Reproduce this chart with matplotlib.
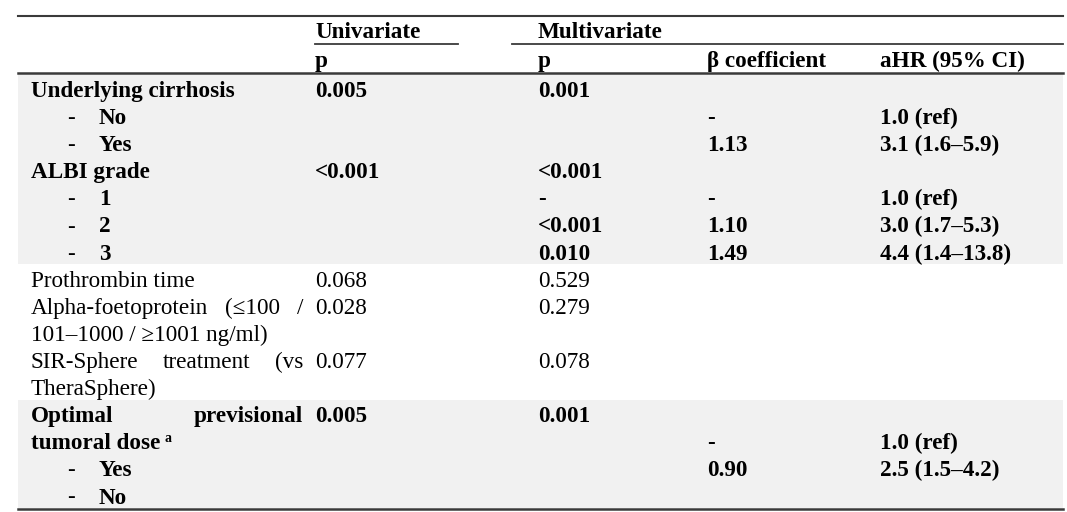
"""Cox regression table (univariate / multivariate) drawn as a figure."""

import matplotlib
matplotlib.use('Agg')
from matplotlib import pyplot as plt

# %% table content
labels = ['Underlying cirrhosis', 'No', 'Yes', 'ALBI grade', '1', '2', '3',
          'Prothrombin time', 'Alpha-foetoprotein (≤100 /',
          '101–1000 / ≥1001 ng/ml)', 'SIR-Sphere treatment (vs',
          'TheraSphere)', 'Optimal previsional', 'tumoral dose', 'Yes', 'No']
# 0 = heading, 1 = sub item with dash, 2 = plain text
kind = [0, 1, 1, 0, 1, 1, 1, 2, 2, 2, 2, 2, 0, 0, 1, 1]
bold = [True] * 7 + [False] * 5 + [True] * 4
justified = [False] * 8 + [True, False, True, False, True] + [False] * 3
footnote = ['', '', '', '', '', '', '', '', '', '', '', '', '', 'a', '', '']

uni_p = ['0.005', '', '', '<0.001', '', '', '', '0.068', '0.028', '',
         '0.077', '', '0.005', '', '', '']
multi_p = ['0.001', '', '', '<0.001', '-', '<0.001', '0.010', '0.529',
           '0.279', '', '0.078', '', '0.001', '', '', '']
beta = ['', '-', '1.13', '', '-', '1.10', '1.49', '', '', '', '', '', '',
        '-', '0.90', '']
ahr = ['', '1.0 (ref)', '3.1 (1.6–5.9)', '', '1.0 (ref)', '3.0 (1.7–5.3)',
       '4.4 (1.4–13.8)', '', '', '', '', '', '', '1.0 (ref)',
       '2.5 (1.5–4.2)', '']
shade = [True] * 7 + [False] * 5 + [True] * 4

# %% layout constants (pixels)
W, H = 1067, 512
X0, X1 = 18, 1063
X_LAB, X_DASH, X_SUB, X_LAB_END = 31, 67, 99, 303
X_UNI, X_MP, X_BETA, X_AHR = 315, 538, 707, 880
BASE0, DY, MID = 97, 27.1, 9      # first baseline, row pitch, baseline-to-mid
FS = 16.7
LINE_C = '#3a3a3a'
GRAY = '#f1f1f1'

plt.rcParams['font.family'] = ['Liberation Serif', 'DejaVu Serif']

fig = plt.figure(figsize=(W / 100, H / 100), dpi=100)
ax = fig.add_axes([0, 0, 1, 1])
ax.set_xlim(0, W)
ax.set_ylim(H, 0)
ax.axis('off')
fig.canvas.draw()
renderer = fig.canvas.get_renderer()


def put(x, y, s, weight='normal', ha='left', size=FS):
    return ax.text(x, y, s, fontsize=size, fontweight=weight, ha=ha,
                   va='baseline', color='black')


def text_width(s, weight):
    t = put(0, 100, s, weight)
    bb = t.get_window_extent(renderer)
    t.remove()
    return bb.width


def justify(x_left, x_right, y, s, weight):
    words = s.split()
    widths = [text_width(w, weight) for w in words]
    gap = (x_right - x_left - sum(widths)) / max(len(words) - 1, 1)
    x = x_left
    for w, wd in zip(words, widths):
        put(x, y, w, weight)
        x += wd + gap


# %% background bands
ys = [BASE0 + i * DY for i in range(len(labels))]
i = 0
while i < len(labels):
    j = i
    while j + 1 < len(labels) and shade[j + 1] == shade[i]:
        j += 1
    top = 74 if i == 0 else ys[i] - MID - DY / 2
    bot = 508 if j == len(labels) - 1 else ys[j] - MID + DY / 2
    if shade[i]:
        ax.fill_between([X0, X1], top, bot, color=GRAY, lw=0)
    i = j + 1

# %% rules
ax.plot([X0, X1], [16, 16], color=LINE_C, lw=1.5)
ax.plot([X_UNI, 458], [44, 44], color=LINE_C, lw=1.3)
ax.plot([512, X1], [44, 44], color=LINE_C, lw=1.3)
ax.plot([X0, X1], [73, 73], color=LINE_C, lw=1.8)
ax.plot([X0, X1], [509, 509], color=LINE_C, lw=1.8)

# %% header
put(X_UNI, 38, 'Univariate', 'bold')
put(X_MP, 38, 'Multivariate', 'bold')
for x, s in zip([X_UNI, X_MP, X_BETA, X_AHR],
                ['p', 'p', 'β coefficient', 'aHR (95% CI)']):
    put(x, 67, s, 'bold')

# %% body
for k, y in enumerate(ys):
    w = 'bold' if bold[k] else 'normal'
    if kind[k] == 1:
        put(X_DASH, y, '-', 'normal')
        put(X_SUB, y, labels[k], w)
    elif justified[k]:
        justify(X_LAB, X_LAB_END, y, labels[k], w)
    else:
        t = put(X_LAB, y, labels[k], w)
        if footnote[k]:
            bb = t.get_window_extent(renderer)
            put(X_LAB + bb.width + 4, y - 7, footnote[k], w, size=FS * 0.6)
    put(X_UNI, y, uni_p[k], w)
    put(X_MP, y, multi_p[k], w)
    put(X_BETA, y, beta[k], w)
    put(X_AHR, y, ahr[k], w)

fig.savefig('out.png', dpi=100)
